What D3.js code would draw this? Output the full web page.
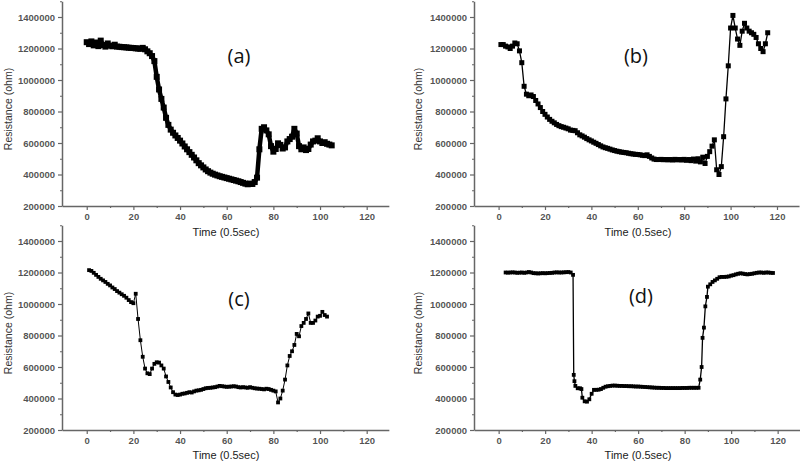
<!DOCTYPE html>
<html><head><meta charset="utf-8">
<script src="https://cdn.jsdelivr.net/npm/d3@7"></script>
<style>body{margin:0;background:#fff}svg{display:block}</style>
</head><body><svg id="c" width="800" height="463"></svg>
<script>
// ---------- data ----------
const timeA = [0,1,2,3,4,5,6,7,8,9,10,11,12,13,14,15,16,17,18,19,20,21,22,23,24,25,26,27,28,29,30,31,32,33,34,35,36,37,38,39,40,41,42,43,44,45,46,47,48,49,50,51,52,53,54,55,56,57,58,59,60,61,62,63,64,65,66,67,68,69,70,71,72,73,74,75,76,77,78,79,80,81,82,83,84,85,86,87,88,89,90,91,92,93,94,95,96,97,98,99,100,101,102,103,104,105];
const resA = [1240000,1228000,1245000,1220000,1238000,1215000,1250000,1222000,1212000,1232000,1218000,1214000,1224000,1212000,1211000,1209000,1208000,1207000,1205000,1204000,1203000,1201000,1200000,1198000,1204000,1195000,1182000,1170000,1152000,1120000,1020000,940000,880000,825000,760000,715000,685000,665000,648000,632000,615000,597000,578000,560000,542000,525000,508000,490000,472000,458000,445000,432000,421000,412000,405000,399000,394000,389000,385000,381000,377000,373000,369000,365000,361000,357000,352000,347000,342000,338000,342000,340000,352000,380000,560000,690000,700000,680000,655000,580000,545000,562000,598000,588000,565000,572000,610000,625000,640000,690000,660000,580000,560000,572000,555000,562000,590000,610000,615000,630000,610000,600000,605000,595000,590000,585000];

const timeB = [1,2,3,4,5,6,7,8,9,10,11,12,13,14,15,16,17,18,19,20,21,22,23,24,25,26,27,28,29,30,31,32,33,34,35,36,37,38,39,40,41,42,43,44,45,46,47,48,49,50,51,52,53,54,55,56,57,58,59,60,61,62,63,64,65,66,67,68,69,70,71,72,73,74,75,76,77,78,79,80,81,82,83,84,85,86,87,88,89,90,91,92,93,94,95,96,97,98,99,100,101,102,103,104,105,106,107,108,109,110,111,112,113,114,115,116];
const resB = [1225000,1225000,1215000,1210000,1200000,1215000,1235000,1230000,1185000,1110000,960000,910000,900000,905000,895000,870000,848000,825000,800000,782000,765000,750000,738000,728000,718000,710000,704000,700000,695000,690000,682000,680000,678000,665000,652000,645000,637000,628000,620000,613000,605000,598000,590000,582000,575000,570000,566000,561000,556000,552000,548000,545000,542000,540000,538000,535000,532000,530000,528000,527000,525000,522000,520000,525000,515000,505000,498000,495000,495000,496000,494000,495000,493000,495000,492000,496000,493000,495000,492000,496000,490000,495000,488000,498000,485000,500000,480000,510000,470000,515000,545000,580000,620000,430000,400000,450000,640000,880000,1090000,1330000,1410000,1330000,1260000,1220000,1310000,1360000,1330000,1310000,1300000,1290000,1270000,1230000,1200000,1180000,1230000,1300000];

const timeC = [1,2,3,4,5,6,7,8,9,10,11,12,13,14,15,16,17,18,19,20,21,22,23,24,25,26,27,28,29,30,31,32,33,34,35,36,37,38,39,40,41,42,43,44,45,46,47,48,49,50,51,52,53,54,55,56,57,58,59,60,61,62,63,64,65,66,67,68,69,70,71,72,73,74,75,76,77,78,79,80,81,82,83,84,85,86,87,88,89,90,91,92,93,94,95,96,97,98,99,100,101,102,103];
const resC = [1215000,1210000,1198000,1185000,1172000,1160000,1150000,1140000,1128000,1118000,1105000,1095000,1082000,1072000,1062000,1052000,1040000,1025000,1012000,1005000,1065000,905000,770000,665000,590000,560000,555000,590000,620000,630000,628000,610000,590000,540000,505000,470000,440000,425000,422000,425000,430000,432000,436000,440000,438000,445000,450000,452000,455000,460000,465000,467000,468000,470000,472000,476000,480000,478000,476000,474000,475000,476000,478000,476000,472000,470000,472000,470000,468000,472000,468000,465000,463000,462000,460000,458000,462000,460000,455000,450000,445000,375000,400000,450000,520000,610000,670000,700000,740000,810000,795000,860000,880000,905000,940000,880000,880000,895000,920000,925000,950000,930000,920000];

const timeD = [3,4,5,6,7,8,9,10,11,12,13,14,15,16,17,18,19,20,21,22,23,24,25,26,27,28,29,30,31,32,32.3,32.6,33,34,35,35.6,36,37,38,39,40,41,42,43,44,45,46,47,48,49,50,51,52,53,54,55,56,57,58,59,60,61,62,63,64,65,66,67,68,69,70,71,72,73,74,75,76,77,78,79,80,81,82,83,84,85,86,86.7,87.3,87.7,88.3,88.9,89.6,90,91,92,93,94,95,96,97,98,99,100,101,102,103,104,105,106,107,108,109,110,111,112,113,114,115,116,117,118];
const resD = [1200000,1199000,1200000,1201000,1200000,1198000,1199000,1200000,1198000,1200000,1203000,1200000,1196000,1195000,1194000,1195000,1196000,1195000,1196000,1197000,1198000,1200000,1201000,1200000,1200000,1201000,1202000,1203000,1200000,1185000,550000,510000,480000,465000,465000,460000,405000,382000,380000,395000,430000,455000,455000,456000,460000,468000,475000,478000,480000,482000,482000,481000,480000,480000,479000,479000,478000,478000,477000,476000,476000,475000,474000,473000,472000,471000,470000,469000,468000,468000,467000,467000,466000,466000,466000,466000,466000,466000,466000,467000,467000,467000,468000,468000,468000,468000,468000,520000,600000,785000,850000,985000,1045000,1110000,1125000,1140000,1150000,1160000,1170000,1172000,1172000,1173000,1175000,1180000,1183000,1188000,1192000,1195000,1193000,1190000,1188000,1190000,1192000,1195000,1198000,1200000,1200000,1198000,1200000,1200000,1198000,1197000];

const xTicks = [0,20,40,60,80,100,120];
const xMinor = [10,30,50,70,90,110];
const yTicks = [200000,400000,600000,800000,1000000,1200000,1400000];
const yMinor = [300000,500000,700000,900000,1100000,1300000,1500000];
const panelLabels = ["(a)","(b)","(c)","(d)"];
const xTitle = "Time (0.5sec)";
const yTitle = "Resistance (ohm)";

// ---------- layout ----------
const panels = [
  {t: timeA, r: resA, left: 62,  bottom: 206, k: 2.333, lab: [239, 63],  xt: [226, 236], yt: [8, 109],   ms: 6,   lw: 4.5},
  {t: timeB, r: resB, left: 474, bottom: 206, k: 2.32,  lab: [636, 63],  xt: [638, 236], yt: [418, 109], ms: 5,   lw: 1.3},
  {t: timeC, r: resC, left: 62,  bottom: 430, k: 2.333, lab: [239, 306], xt: [226, 459], yt: [8, 333],   ms: 3.8, lw: 1},
  {t: timeD, r: resD, left: 474, bottom: 430, k: 2.325, lab: [641, 303], xt: [638, 459], yt: [418, 333], ms: 3.8, lw: 1.3}
];

const svg = d3.select("#c");
const axisCol = "#666";
const txtCol = "#333";

panels.forEach((p, i) => {
  const x = d3.scaleLinear().domain([-10.6, 129.5]).range([p.left, p.left + 140.1 * p.k]);
  const y = d3.scaleLinear().domain([200000, 1500000]).range([p.bottom, p.bottom - 1300000 * 189 / 1200000]);
  const g = svg.append("g");

  g.append("g").attr("transform", `translate(0,${p.bottom})`)
    .call(d3.axisBottom(x).tickValues(xTicks).tickSize(4).tickSizeOuter(0).tickPadding(3));
  g.append("g").attr("transform", `translate(0,${p.bottom})`)
    .call(d3.axisBottom(x).tickValues(xMinor).tickSize(2).tickSizeOuter(0).tickFormat(""))
    .call(s => s.select(".domain").remove());
  g.append("g").attr("transform", `translate(${p.left},0)`)
    .call(d3.axisLeft(y).tickValues(yTicks).tickSize(4).tickSizeOuter(0).tickPadding(3).tickFormat(d3.format("d")));
  g.append("g").attr("transform", `translate(${p.left},0)`)
    .call(d3.axisLeft(y).tickValues(yMinor).tickSize(2).tickSizeOuter(0).tickFormat(""))
    .call(s => s.select(".domain").remove());

  g.selectAll(".domain").attr("stroke", axisCol).attr("stroke-width", 1.5);
  g.selectAll(".tick line").attr("stroke", axisCol).attr("stroke-width", 1.2);
  g.selectAll(".tick text").attr("fill", txtCol).attr("font-family", "Liberation Sans, Arial, sans-serif")
    .attr("font-size", 9.5).attr("font-weight", "bold").attr("fill-opacity", 0.85);

  g.append("text").attr("x", p.xt[0]).attr("y", p.xt[1]).attr("text-anchor", "middle")
    .attr("font-family", "Liberation Sans, Arial, sans-serif").attr("font-size", 11).attr("fill", "#222")
    .text(xTitle);
  g.append("text").attr("transform", `translate(${p.yt[0]},${p.yt[1]}) rotate(-90)`)
    .attr("text-anchor", "middle").attr("dominant-baseline", "central")
    .attr("font-family", "Liberation Sans, Arial, sans-serif").attr("font-size", 10.5).attr("fill", "#333")
    .text(yTitle);

  const pts = p.t.map((t, j) => [t, p.r[j]]);
  g.append("path").datum(pts)
    .attr("d", d3.line().x(d => x(d[0])).y(d => y(d[1])))
    .attr("fill", "none").attr("stroke", "#000").attr("stroke-width", p.lw).attr("stroke-linejoin", "round");
  g.selectAll("rect.m").data(pts).join("rect").attr("class", "m")
    .attr("x", d => x(d[0]) - p.ms / 2).attr("y", d => y(d[1]) - p.ms / 2)
    .attr("width", p.ms).attr("height", p.ms).attr("fill", "#000");

  g.append("text").attr("x", p.lab[0]).attr("y", p.lab[1]).attr("text-anchor", "middle")
    .attr("font-family", "Open Sans, Noto Sans, sans-serif").attr("font-size", 20).attr("fill", "#111")
    .text(panelLabels[i]);
});
</script>
</body></html>
